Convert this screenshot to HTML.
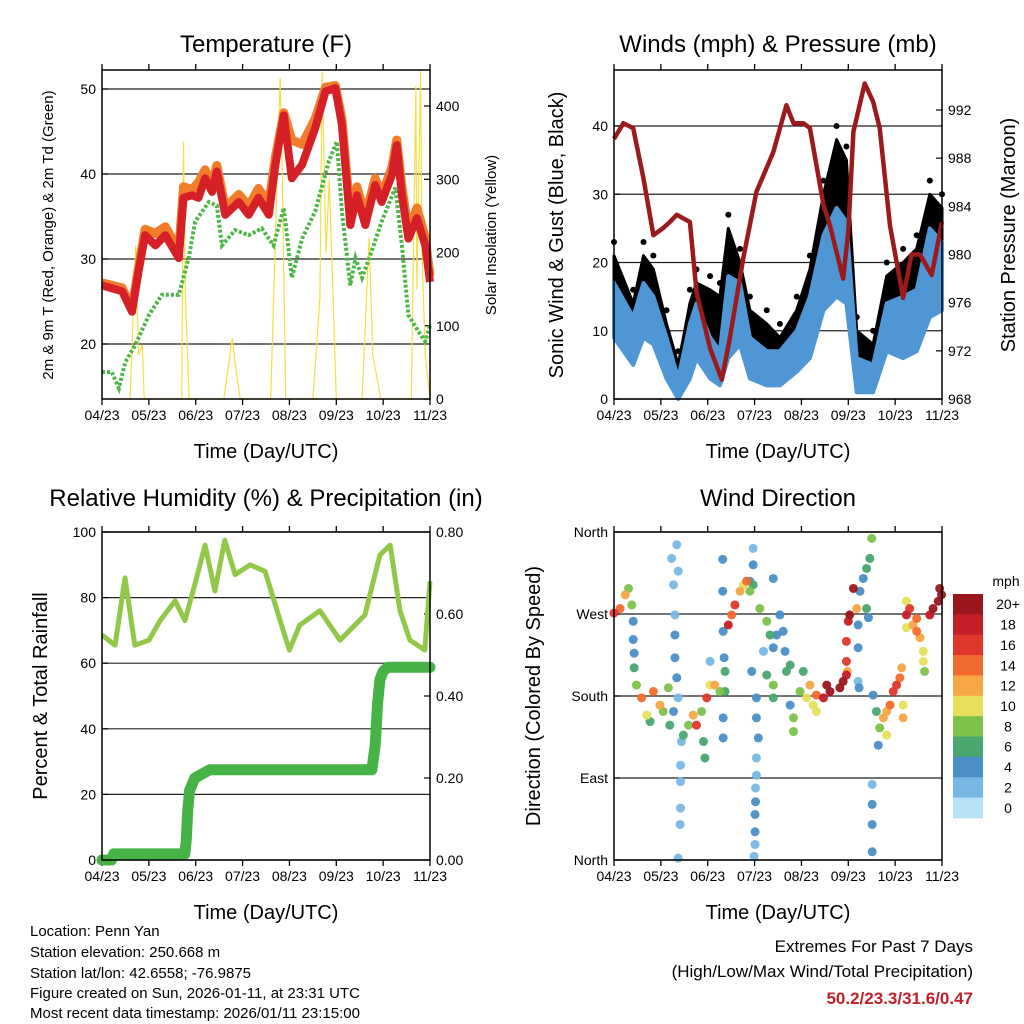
<!DOCTYPE html>
<html><head><meta charset="utf-8">
<style>
html,body{margin:0;padding:0;background:#fff;}
svg{display:block;font-family:"Liberation Sans",sans-serif;}
</style></head>
<body>
<svg id="fig" width="1024" height="1024" viewBox="0 0 1024 1024" xmlns="http://www.w3.org/2000/svg">
<g id="texts">
<text x="266" y="52" font-size="24" text-anchor="middle">Temperature (F)</text>
<text x="778" y="52" font-size="24" text-anchor="middle">Winds (mph) &amp; Pressure (mb)</text>
<text x="266" y="506" font-size="24" text-anchor="middle">Relative Humidity (%) &amp; Precipitation (in)</text>
<text x="778" y="506" font-size="24" text-anchor="middle">Wind Direction</text>
<text x="266" y="458" font-size="20" text-anchor="middle">Time (Day/UTC)</text>
<text x="778" y="458" font-size="20" text-anchor="middle">Time (Day/UTC)</text>
<text x="266" y="919" font-size="20" text-anchor="middle">Time (Day/UTC)</text>
<text x="778" y="919" font-size="20" text-anchor="middle">Time (Day/UTC)</text>
<text transform="translate(53,235) rotate(-90)" font-size="15" text-anchor="middle">2m &amp; 9m T (Red, Orange) &amp; 2m Td (Green)</text>
<text transform="translate(496,235) rotate(-90)" font-size="15" text-anchor="middle">Solar Insolation (Yellow)</text>
<text transform="translate(563,235) rotate(-90)" font-size="20" text-anchor="middle">Sonic Wind &amp; Gust (Blue, Black)</text>
<text transform="translate(1015,235) rotate(-90)" font-size="20" text-anchor="middle">Station Pressure (Maroon)</text>
<text transform="translate(47,696) rotate(-90)" font-size="20" text-anchor="middle">Percent &amp; Total Rainfall</text>
<text transform="translate(540,696) rotate(-90)" font-size="20" text-anchor="middle">Direction (Colored By Speed)</text>
<g font-size="15">
<text x="30" y="936">Location: Penn Yan</text>
<text x="30" y="957">Station elevation: 250.668 m</text>
<text x="30" y="978">Station lat/lon: 42.6558; -76.9875</text>
<text x="30" y="998">Figure created on Sun, 2026-01-11, at 23:31 UTC</text>
<text x="30" y="1018">Most recent data timestamp: 2026/01/11 23:15:00</text>
</g>
<g font-size="17" text-anchor="end">
<text x="973" y="952">Extremes For Past 7 Days</text>
<text x="973" y="977">(High/Low/Max Wind/Total Precipitation)</text>
<text x="973" y="1004" fill="#c0202a" font-weight="bold">50.2/23.3/31.6/0.47</text>
</g>
</g>
<g id="plots"></g>
</svg>
<script>
const xTickLabels = ["04/23","05/23","06/23","07/23","08/23","09/23","10/23","11/23"];

const tempTimes = [0,0.43,0.64,0.78,0.92,1.14,1.35,1.64,1.74,1.92,2.06,2.2,2.35,2.45,2.63,2.92,3.13,3.34,3.56,3.7,3.88,4.05,4.27,4.55,4.77,4.98,5.12,5.3,5.44,5.62,5.83,5.97,6.19,6.29,6.4,6.54,6.72,6.9,7.0];
const temp2m = [26.9,26.2,23.8,28.5,32.8,31.6,32.8,30.1,37.2,37.5,37.2,39.5,37.9,40.3,35.2,36.7,35.2,37.2,35.2,41.1,46.9,39.5,41.1,45.4,49.7,50.1,45.8,34.0,37.5,34.0,38.7,36.7,39.9,43.4,37.5,32.4,34.8,31.6,27.3];
const temp9m = [27.2,26.6,24.2,29,33.5,33,33.8,31,38.5,38.2,39,40.5,38.8,41,36,37.6,36.2,38.3,36.5,42,47.2,44,43.5,46.5,50.2,50.4,46.5,35,38.5,35,39.5,37.5,40.8,44,38.5,33.2,36,32.5,28];
const dewTimes = [0,0.21,0.36,0.5,0.71,1.0,1.28,1.64,1.85,1.99,2.28,2.45,2.56,2.84,3.13,3.41,3.66,3.88,4.05,4.27,4.55,4.84,5.01,5.12,5.3,5.41,5.55,5.76,5.97,6.26,6.4,6.54,6.76,6.9,7.0];
const dewPoint = [16.7,16.7,14.8,17.9,19.9,23.4,25.8,25.8,30.1,34.4,36.7,36.3,31.6,33.4,32.8,33.6,31.6,36,27.8,32.4,35.6,41.5,43.8,35.6,26.9,30.1,27.8,31,34.4,38.4,31.6,23.4,21.4,20.3,22.2];
const solarTimes = [0,0.6,0.72,0.78,0.86,0.9,0.95,1.7,1.74,1.78,1.86,2.6,2.78,2.86,2.95,3.6,3.8,3.85,3.92,4.5,4.65,4.7,4.78,4.85,5.0,5.55,5.7,5.78,5.95,6.6,6.7,6.72,6.8,6.83,6.9,7.0];
const solarValues = [0,0,210,60,74,0,0,0,351,138,0,0,83,40,0,0,438,300,0,0,138,446,200,300,0,0,220,60,0,0,428,150,448,200,60,0];
const tempTicks = [20,30,40,50];
const solarTicks = [0,100,200,300,400];

const pressTimes = [0,0.2,0.41,0.63,0.84,1.05,1.19,1.34,1.62,1.76,2.05,2.3,2.47,2.76,3.04,3.4,3.68,3.83,4.04,4.18,4.47,4.61,4.89,5.0,5.11,5.35,5.53,5.67,5.89,6.17,6.35,6.53,6.78,7.0];
const pressure = [989.6,990.9,990.5,986.3,981.6,982.2,982.7,983.3,982.7,976.9,972.2,969.6,973.0,979.7,985.2,988.5,992.4,990.9,990.9,990.5,984.1,982.4,978.0,981.9,990.2,994.2,992.7,990.5,982.4,976.4,980,980,978.3,982.7];
const windTimes = [0,0.41,0.63,0.84,1.12,1.37,1.62,1.76,2.05,2.26,2.44,2.69,2.9,3.26,3.54,3.9,4.18,4.47,4.75,4.96,5.18,5.53,5.82,6.17,6.46,6.74,7.0];
const windHigh = [17,12,17,15,9,3,11,14,9,7,18,17,9,7,7,10,15,24,28,26,6,5,14,15,16,25,23];
const windLow = [9,5,9,8,3,0,3,6,3,2,6,8,3,2,2,4,6,13,15,14,1,1,7,6,7,12,13];
const gust = [21,14,21,19,11,5,14,17,16,15,25,20,13,11,9,13,19,30,38,35,10,8,18,20,22,30,28];
const windTicks = [0,10,20,30,40];
const pressTicks = [968,972,976,980,984,988,992];

const rhTimes = [0,0.28,0.49,0.7,1.0,1.24,1.56,1.77,2.0,2.2,2.41,2.62,2.84,3.16,3.48,3.8,4.0,4.22,4.65,5.08,5.61,5.93,6.15,6.36,6.57,6.89,7.0];
const rhValues = [68.6,65.5,86,65.5,67,73,79,73,85,96,82,97.5,87,90,88,73,64,71.6,76,67,74.7,93,96,76,67,64,85];
const precipTimes = [0,0.2,0.25,1.77,1.8,1.83,1.87,1.98,2.3,5.76,5.83,5.88,5.93,6.0,6.1,7.0];
const precipValues = [0,0,0.015,0.015,0.05,0.12,0.17,0.2,0.22,0.22,0.28,0.38,0.44,0.46,0.47,0.47];
const rhTicks = [0,20,40,60,80,100];
const precipTicks = [0,0.2,0.4,0.6,0.8];

const dirTimes = [0.0,0.13,0.24,0.31,0.38,0.41,0.41,0.43,0.43,0.48,0.59,0.70,0.77,0.84,0.98,1.05,1.16,1.19,1.23,1.27,1.34,1.37,1.30,1.30,1.30,1.34,1.37,1.27,1.44,1.42,1.42,1.42,1.41,1.37,1.48,1.59,1.69,1.76,1.87,1.91,1.94,1.98,2.05,2.15,2.26,2.37,2.05,2.32,2.32,2.33,2.35,2.37,2.33,2.33,2.44,2.51,2.58,2.69,2.76,2.83,2.90,2.97,2.97,2.97,2.90,2.94,3.04,3.04,3.08,3.04,3.04,3.02,3.02,3.01,3.01,3.01,2.99,3.11,3.26,3.33,3.19,3.40,3.47,3.54,3.61,3.65,3.76,3.40,3.26,3.40,3.40,3.68,3.76,3.83,3.83,3.97,4.04,4.11,4.18,4.25,4.32,4.47,4.54,4.61,4.82,4.89,4.32,4.96,4.96,4.96,5.00,5.03,5.11,5.18,5.21,5.25,5.32,5.39,5.39,5.46,5.50,5.43,5.21,5.21,5.23,4.98,5.51,5.51,5.51,5.51,5.53,5.60,5.67,5.75,5.82,5.89,5.96,6.03,6.10,6.14,6.17,6.17,5.64,5.82,6.24,6.24,6.31,6.38,6.46,6.53,6.60,6.60,6.63,6.74,6.81,6.92,6.95,6.99,6.46,6.24];
const dirDegrees = [271,276,291,298,280,262,242,227,211,192,178,159,152,185,170,163,189,148,331,302,346,317,269,247,222,200,178,163,130,104,86,57,39,2,137,148,159,148,163,130,112,178,192,192,185,185,218,330,295,251,222,207,156,134,258,269,280,295,302,306,295,302,342,324,306,207,178,156,134,112,93,79,64,50,31,17,4,276,262,247,229,233,247,269,251,229,214,309,203,192,178,207,170,156,141,185,207,178,192,170,181,178,192,185,189,196,163,203,218,240,262,269,298,276,258,295,309,320,276,331,353,266,233,196,189,207,83,61,39,9,181,163,145,156,163,170,185,192,200,211,170,156,126,137,284,269,276,258,251,244,229,218,207,269,276,284,298,291,265,255];
const dirSpeeds = [16,14,12,8,8,4,4,3,6,8,14,10,6,14,12,8,8,6,2,2,1,1,1,3,4,3,2,4,2,1,1,1,1,1,6,8,12,16,8,6,5,16,10,12,8,6,2,4,4,4,4,6,4,4,18,14,16,12,10,14,8,6,2,3,4,4,4,4,4,1,2,2,4,4,4,2,2,8,8,6,2,4,4,4,4,4,6,4,6,8,6,6,4,8,8,8,6,10,12,10,14,18,20,20,20,20,10,18,16,16,18,20,20,12,4,4,4,6,6,6,8,4,4,2,4,12,1,4,4,4,4,6,8,12,12,14,16,16,14,12,10,12,4,10,10,18,16,12,14,12,10,10,8,18,20,20,20,20,14,10];
const speedLabels = ["20+","18","16","14","12","10","8","6","4","2","0"];
const speedColors = ["#9b161c","#c41e26","#e0362b","#f26a2b","#f7a646","#e6e05a","#7cc24a","#49a66f","#4a8fc7","#78b7e4","#b6e2f7"];
const dirTickLabels = ["North","East","South","West","North"];
const dirTickValues = [0,90,180,270,360];

const NS = "http://www.w3.org/2000/svg";
const root = document.getElementById('plots');
function mk(tag, attrs, parent) {
  const e = document.createElementNS(NS, tag);
  for (const k in attrs) e.setAttribute(k, attrs[k]);
  (parent || root).appendChild(e);
  return e;
}
function scale(d0, d1, r0, r1) { return v => r0 + (v - d0) / (d1 - d0) * (r1 - r0); }
function pts(xs, ys, fx, fy) { return xs.map((t, i) => fx(t).toFixed(1) + "," + fy(ys[i]).toFixed(1)).join(" "); }

function frame(x0, y0, x1, y1, name) {
  const g = mk('g', {});
  
  
  const fx = scale(0, 7, x0, x1);
  xTickLabels.forEach((lab, i) => {
    const x = fx(i);
    mk('line', {x1: x, y1: y1, x2: x, y2: y1 + 6, stroke: '#000', 'stroke-width': 1.3}, g);
    mk('line', {x1: x, y1: y0, x2: x, y2: y0 - 6, stroke: '#000', 'stroke-width': 1.3}, g);
    const t = mk('text', {x: x, y: y1 + 21, 'font-size': 14, 'text-anchor': 'middle'}, g);
    
    
    t.textContent = lab;
  });
  return g;
}
function border(x0, y0, x1, y1) {
  mk('rect', {x: x0, y: y0, width: x1 - x0, height: y1 - y0, fill: 'none', stroke: '#000', 'stroke-width': 1.5});
}
function yAxis(g, ticks, fy, x, side, fmt, grid, x0, x1) {
  ticks.forEach(v => {
    const y = fy(v);
    if (grid) mk('line', {x1: x0, y1: y, x2: x1, y2: y, stroke: '#222', 'stroke-width': 1.2}, g);
    mk('line', {x1: x, y1: y, x2: x + (side < 0 ? 6 : -6), y2: y, stroke: '#000', 'stroke-width': 1.2}, g);
    const t = mk('text', {x: side < 0 ? x - 6 : x + 6, y: y + 5, 'font-size': 14, 'text-anchor': side < 0 ? 'end' : 'start'}, g);
    
    
    t.textContent = fmt(v);
  });
}

(function () {
  const x0 = 102, x1 = 430, y0 = 70, y1 = 399;
  const fx = scale(0, 7, x0, x1);
  const fy = scale(20, 50, 344, 89);
  const fs = scale(0, 400, 399, 106);
  const g = frame(x0, y0, x1, y1, 'temperature');
  yAxis(g, tempTicks, fy, x0, -1, v => v, true, x0, x1);
  yAxis(g, solarTicks, fs, x1, 1, v => v, false);
  const sol = mk('polyline', {points: pts(solarTimes, solarValues, fx, fs), fill: 'none', stroke: '#f6dc3c', 'stroke-width': 1.2, opacity: 0.95});
  
  
  const dp = mk('polyline', {points: pts(dewTimes, dewPoint, fx, fy), fill: 'none', stroke: '#4cb748', 'stroke-width': 4, 'stroke-dasharray': '3 2'});
  
  
  const o = mk('polyline', {points: pts(tempTimes, temp9m, fx, fy), fill: 'none', stroke: '#f27c2a', 'stroke-width': 9, 'stroke-linejoin': 'round'});
  
  
  const r = mk('polyline', {points: pts(tempTimes, temp2m, fx, fy), fill: 'none', stroke: '#d42026', 'stroke-width': 8, 'stroke-linejoin': 'round'});
  
  
  border(x0, y0, x1, y1);
})();

(function () {
  const x0 = 614, x1 = 942, y0 = 70, y1 = 399;
  const fx = scale(0, 7, x0, x1);
  const fy = scale(0, 40, 399, 126);
  const fp = scale(968, 992, 399, 110);
  const g = frame(x0, y0, x1, y1, 'winds');
  yAxis(g, windTicks, fy, x0, -1, v => v, true, x0, x1);
  yAxis(g, pressTicks, fp, x1, 1, v => v, false);
  const gp = mk('polygon', {points: pts(windTimes, gust, fx, fy) + " " + pts(windTimes.slice().reverse(), windLow.slice().reverse(), fx, fy), fill: '#000', stroke: '#000', 'stroke-width': 3, 'stroke-linejoin': 'round'});
  
  
  windTimes.forEach((t, i) => {
    const c = mk('circle', {cx: fx(t), cy: fy(gust[i] + 2), r: 3, fill: '#000'});
    
    
  });
  const bp = mk('polygon', {points: pts(windTimes, windHigh, fx, fy) + " " + pts(windTimes.slice().reverse(), windLow.slice().reverse(), fx, fy), fill: '#4f97d4', stroke: '#4f97d4', 'stroke-width': 4, 'stroke-linejoin': 'round'});
  
  
  const p = mk('polyline', {points: pts(pressTimes, pressure, fx, fp), fill: 'none', stroke: '#9b1a1c', 'stroke-width': 4.5, 'stroke-linejoin': 'round'});
  
  
  border(x0, y0, x1, y1);
})();

(function () {
  const x0 = 102, x1 = 430, y0 = 532, y1 = 860;
  const fx = scale(0, 7, x0, x1);
  const fy = scale(0, 100, 860, 532);
  const fp = scale(0, 0.8, 860, 532);
  const g = frame(x0, y0, x1, y1, 'humidity');
  yAxis(g, rhTicks, fy, x0, -1, v => v, true, x0, x1);
  yAxis(g, precipTicks, fp, x1, 1, v => v.toFixed(2), false);
  const rh = mk('polyline', {points: pts(rhTimes, rhValues, fx, fy), fill: 'none', stroke: '#92c84a', 'stroke-width': 5, 'stroke-linejoin': 'round'});
  
  
  const pr = mk('polyline', {points: pts(precipTimes, precipValues, fx, fp), fill: 'none', stroke: '#47b347', 'stroke-width': 11, 'stroke-linejoin': 'round', 'stroke-linecap': 'round'});
  
  
  border(x0, y0, x1, y1);
})();

(function () {
  const x0 = 614, x1 = 942, y0 = 532, y1 = 860;
  const fx = scale(0, 7, x0, x1);
  const fy = scale(0, 360, 860, 532);
  const g = frame(x0, y0, x1, y1, 'wind-direction');
  yAxis(g, dirTickValues, fy, x0, -1, v => dirTickLabels[dirTickValues.indexOf(v)], true, x0, x1);
  const order = dirSpeeds.map((s, i) => i).sort((a, b) => dirSpeeds[a] - dirSpeeds[b]);
  order.forEach(i => {
    const s = dirSpeeds[i];
    const idx = Math.max(0, 10 - Math.min(10, Math.round(s / 2)));
    const c = mk('circle', {cx: fx(dirTimes[i]), cy: fy(dirDegrees[i]), r: 4.5, fill: speedColors[idx], opacity: 0.95});
    
    
  });
  border(x0, y0, x1, y1);
  const cb = mk('g', {});
  
  
  const t = mk('text', {x: 1006, y: 586, 'font-size': 14, 'text-anchor': 'middle'}, cb);
  t.textContent = 'mph';
  const h = (818 - 594) / speedColors.length;
  speedColors.forEach((col, i) => {
    const r = mk('rect', {x: 953, y: 594 + i * h, width: 30, height: h + 0.3, fill: col}, cb);
    
    
    const l = mk('text', {x: 1008, y: 594 + i * h + h / 2 + 5, 'font-size': 14, 'text-anchor': 'middle'}, cb);
    
    
    l.textContent = speedLabels[i];
  });
})();
</script>
</body></html>
